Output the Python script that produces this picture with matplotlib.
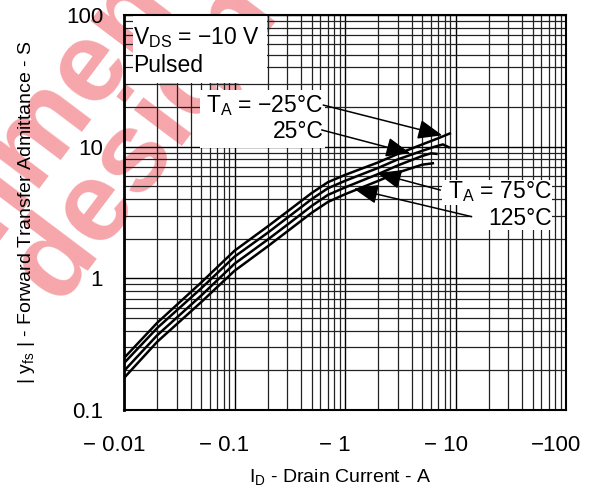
import numpy as np
import matplotlib
matplotlib.use('Agg')
import matplotlib.pyplot as plt
from matplotlib.patches import Rectangle
from matplotlib.transforms import ScaledTranslation

plt.rcParams['font.family'] = ['Liberation Sans', 'DejaVu Sans']
plt.rcParams['mathtext.fontset'] = 'custom'
plt.rcParams['mathtext.rm'] = 'Liberation Sans'

# |yfs| vs drain current (magnitudes, axis labelled negative)
id_m25 = [0.01, 0.02, 0.05, 0.1, 0.2, 0.3, 0.5, 0.7, 1, 2, 3, 5, 7, 9.1]
yfs_m25 = [0.248, 0.46, 0.93, 1.62, 2.48, 3.21, 4.45, 5.37, 6.1, 7.6, 8.8, 10.4, 11.6, 12.7]

id_25 = [0.01, 0.02, 0.05, 0.1, 0.2, 0.3, 0.5, 0.7, 1, 2, 3, 5, 6.5, 7.7, 8.9]
yfs_25 = [0.227, 0.42, 0.84, 1.46, 2.22, 2.88, 4.0, 4.83, 5.5, 6.9, 8.0, 9.3, 10.0, 10.4, 9.8]

id_75 = [0.01, 0.02, 0.05, 0.1, 0.2, 0.3, 0.5, 0.7, 1, 2, 3, 5, 6.0, 6.9]
yfs_75 = [0.198, 0.37, 0.74, 1.29, 1.97, 2.55, 3.55, 4.3, 4.9, 6.2, 7.2, 8.5, 8.9, 8.8]

id_125 = [0.01, 0.02, 0.05, 0.1, 0.2, 0.3, 0.5, 0.7, 1, 2, 3, 5, 6.4]
yfs_125 = [0.175, 0.33, 0.66, 1.14, 1.75, 2.27, 3.15, 3.8, 4.35, 5.5, 6.35, 7.3, 7.5]

x_ticks = [0.01, 0.1, 1, 10, 100]
x_ticklabels = ['\u2212 0.01', '\u2212 0.1', '\u2212 1', '\u2212 10', '\u2212100']
y_ticks = [0.1, 1, 10, 100]
y_ticklabels = ['0.1', '1', '10', '100']

fig = plt.figure(figsize=(5.97, 4.95), dpi=100)

# watermark behind everything
wm = dict(rotation=53, rotation_mode='anchor', ha='right', va='baseline',
          fontsize=82, fontweight='bold', color='#f6a6ab', zorder=-5)
fig.text(0.4986, 1.3121, 'Not recommended', **wm)
fig.text(0.468, 0.977, 'design', **wm)

ax = fig.add_axes([124 / 597, 1 - 410 / 495, 442 / 597, 395 / 495])
ax.patch.set_facecolor('none')
ax.set_xscale('log')
ax.set_yscale('log')
ax.set_xlim(0.01, 100)
ax.set_ylim(0.1, 100)

ax.grid(True, which='major', color='k', lw=1.0)
ax.grid(True, which='minor', color='#222222', lw=0.9)
ax.tick_params(which='both', length=0)
ax.set_xticks(x_ticks)
ax.set_xticklabels(x_ticklabels, fontsize=16)
ax.set_yticks(y_ticks)
ax.set_yticklabels(y_ticklabels, fontsize=16)
ax.tick_params(axis='x', pad=18)
ax.tick_params(axis='y', pad=15)
for lab in ax.get_xticklabels():
    lab.set_transform(lab.get_transform() + ScaledTranslation(-0.10, 0, fig.dpi_scale_trans))

for sp in ax.spines.values():
    sp.set_linewidth(1.5)
ax.spines['left'].set_linewidth(2.0)

for xs, ys in [(id_m25, yfs_m25), (id_25, yfs_25), (id_75, yfs_75), (id_125, yfs_125)]:
    ax.plot(xs, ys, color='k', lw=1.8, zorder=3, solid_capstyle='butt')

# white boxes behind the labels
for (x0, x1, y0, y1) in [(0.0121, 0.197, 30.4, 100), (0.0488, 0.66, 9.75, 26.9),
                         (7.55, 74.6, 3.6, 5.57), (14.1, 74.6, 2.33, 3.6)]:
    ax.add_patch(Rectangle((x0, y0), x1 - x0, y1 - y0, facecolor='white',
                           edgecolor='none', zorder=1.8))

tk = dict(fontsize=16.5, zorder=4)
ax.text(0.0121, 68, r'V$_\mathregular{DS}$ = $\mathregular{-}$10 V', ha='left', va='center', **tk)
ax.text(0.0121, 41, 'Pulsed', ha='left', va='center', **tk)
ax.text(0.64, 20.5, r'T$_\mathregular{A}$ = $\mathregular{-}$25°C', ha='right', va='center', **tk)
ax.text(0.64, 13.1, '25°C', ha='right', va='center', **tk)
ax.text(74, 4.55, r'T$_\mathregular{A}$ = 75°C', ha='right', va='center', **tk)
ax.text(74, 2.85, '125°C', ha='right', va='center', **tk)

arr = dict(arrowstyle='-|>,head_length=0.75,head_width=0.3', color='k', lw=1.1,
           mutation_scale=20, shrinkA=0, shrinkB=0)
ax.annotate('', xy=(7.6, 12.2), xytext=(0.635, 20.7), arrowprops=arr, zorder=4)
ax.annotate('', xy=(3.9, 8.9), xytext=(0.615, 13.4), arrowprops=arr, zorder=4)
ax.annotate('', xy=(1.95, 6.3), xytext=(7.3, 4.68), arrowprops=arr, zorder=4)
ax.annotate('', xy=(1.2, 4.8), xytext=(14.0, 2.94), arrowprops=arr, zorder=4)

ax.set_xlabel(r'I$_\mathregular{D}$ - Drain Current - A', fontsize=14)
ax.set_ylabel(r'| y$_\mathregular{fs}$ | - Forward Transfer Admittance - S', fontsize=14)
ax.xaxis.set_label_coords(0.49, -0.145)
ax.yaxis.set_label_coords(-0.197, 0.5)

fig.savefig('out.png', dpi=100)
